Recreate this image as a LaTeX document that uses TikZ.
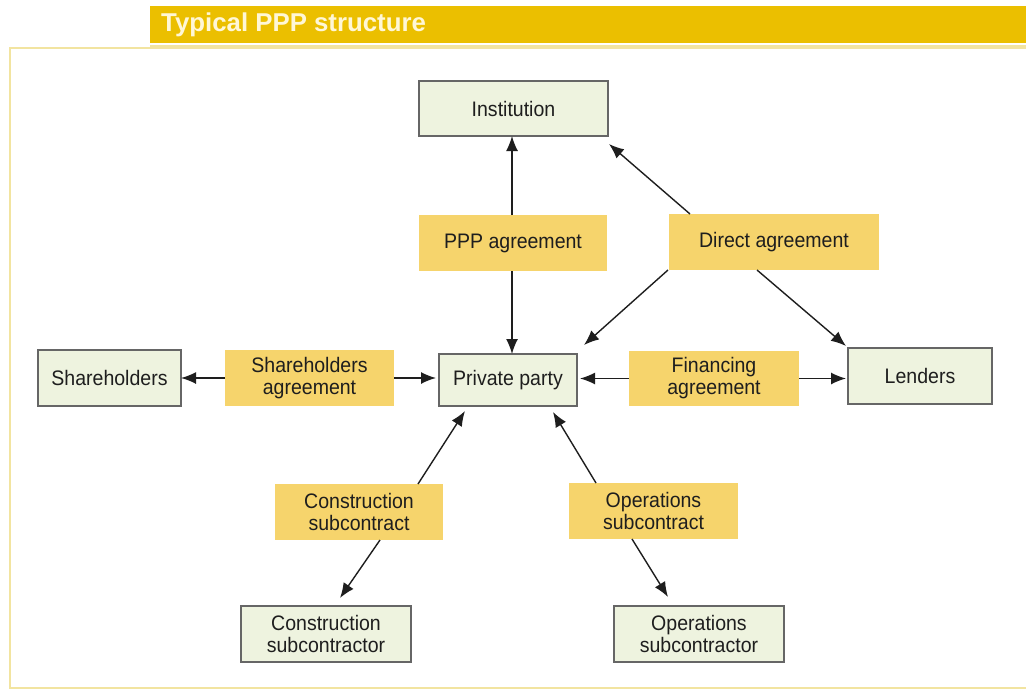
\documentclass[tikz,border=0pt]{standalone}
\usepackage{fontspec}
\setmainfont[FakeStretch=0.93]{Liberation Sans}
\newfontfamily\titlefont{Liberation Sans}
\usetikzlibrary{calc,positioning,arrows.meta}

\definecolor{partyfill}{HTML}{EEF3DF}
\definecolor{partyline}{HTML}{666666}
\definecolor{agreefill}{HTML}{F6D46C}
\definecolor{barfill}{HTML}{EBBF00}
\definecolor{framecol}{HTML}{F2E4A0}
\definecolor{titletext}{HTML}{FFF7D6}
\definecolor{ink}{HTML}{1E1E1E}

\begin{document}
\begin{tikzpicture}[x=1pt,y=-1pt]
\tikzstyle{party}=[draw=partyline,fill=partyfill,line width=1.5pt,outer sep=0pt,align=center,text=ink,font=\fontsize{21}{22}\selectfont]
\tikzstyle{agreement}=[fill=agreefill,outer sep=0pt,align=center,text=ink,font=\fontsize{21}{22}\selectfont]
\tikzstyle{link}=[line width=1.4pt,draw=ink,-{Latex[length=15pt,width=12pt]}]

\useasboundingbox (0,0) rectangle (1026,693);

% title bar and frame
\fill[barfill] (150,6) rectangle (1026,43);
\draw[framecol,line width=1.5pt] (150,46) -- (1026,46);
\draw[framecol,line width=2pt] (1040,48) -- (10,48) -- (10,688) -- (1040,688);
\node (title) [anchor=base west,inner sep=0pt,text=titletext,font=\titlefont\bfseries\fontsize{25.8}{26}\selectfont] at (161,32) {Typical PPP structure};

% parties
\node (inst) [party,minimum width=189pt,minimum height=55pt] at (513.5,108.5) {Institution};
\node (priv) [party,minimum width=138pt,minimum height=52pt] at (508,380) {Private party};
\node (share) [party,minimum width=143pt,minimum height=56pt] at (109.5,378) {Shareholders};
\node (lend) [party,minimum width=144pt,minimum height=56pt] at (920,376) {Lenders};
\node (csub) [party,minimum width=170pt,minimum height=56pt] at (326,634) {Construction\\subcontractor};
\node (osub) [party,minimum width=170pt,minimum height=56pt] at (699,634) {Operations\\subcontractor};

% agreements
\node (ppp) [agreement,minimum width=188pt,minimum height=56pt] at (513,243) {PPP agreement};
\node (direct) [agreement,minimum width=210pt,minimum height=56pt] at (774,242) {Direct agreement};
\node (shagr) [agreement,minimum width=169pt,minimum height=56pt] at (309.5,378) {Shareholders\\agreement};
\node (fin) [agreement,minimum width=170pt,minimum height=55pt] at (714,378.5) {Financing\\agreement};
\node (cagr) [agreement,minimum width=168pt,minimum height=56pt] at (359,512) {Construction\\subcontract};
\node (oagr) [agreement,minimum width=169pt,minimum height=56pt] at (653.5,511) {Operations\\subcontract};

\draw [link] ($(ppp.north)+(-1,0)$) -- ($(ppp.north |- inst.south)+(-1,0)$);
\draw [link] ($(ppp.south)+(-1,0)$) -- ($(ppp.south |- priv.north)+(-1,0)$);

\draw [link] ($(direct.north west)+(21,0)$) -- ($(inst.south east)+(1,8)$);
\draw [link] ($(direct.south west)+(-1,0)$) -- ($(priv.north east)+(7,-9)$);
\draw [link] ($(direct.south west)+(88,0)$) -- ($(lend.north west)+(-2,-2)$);

\draw [link] (shagr.west) -- (shagr.west -| share.east);
\draw [link] (shagr.east) -- ($(shagr.east -| priv.west)+(-3,0)$);
\draw [link] (fin.west) -- ($(fin.west -| priv.east)+(3,0)$);
\draw [link] (fin.east) -- ($(fin.east -| lend.west)+(-2,0)$);

\draw [link] ($(cagr.north west)+(143,0)$) -- ($(priv.south west)+(26,5)$);
\draw [link] ($(cagr.south west)+(105,0)$) -- ($(csub.north)+(14,-8)$);
\draw [link] ($(oagr.north west)+(27,0)$) -- ($(priv.south east)+(-24,6)$);
\draw [link] ($(oagr.south west)+(63,0)$) -- ($(osub.north)+(-31,-9)$);

\end{tikzpicture}
\end{document}
